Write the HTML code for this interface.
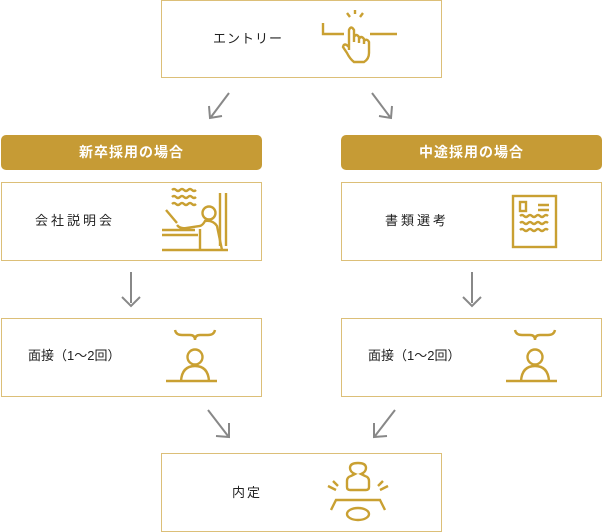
<!DOCTYPE html>
<html><head><meta charset="utf-8"><style>
body{margin:0;width:603px;height:532px;background:#fff;position:relative;overflow:hidden;font-family:"Liberation Sans","Noto Sans CJK JP",sans-serif;}
.box{position:absolute;border:1.5px solid #dcbf78;box-sizing:border-box;background:#fff;}
.t{position:absolute;font-size:13px;color:#222;letter-spacing:1px;white-space:nowrap;}
.h{position:absolute;background:#c69b35;border-radius:5px;color:#fff;font-weight:bold;font-size:14px;text-align:center;line-height:35px;letter-spacing:1px;}
svg{position:absolute;left:0;top:0;}
</style></head><body>
<div class="box" style="left:161px;top:0;width:281px;height:78px"></div>
<div class="h" style="left:1px;top:135px;width:261px;height:35px">新卒採用の場合</div>
<div class="h" style="left:341px;top:135px;width:261px;height:35px">中途採用の場合</div>
<div class="box" style="left:1px;top:182px;width:261px;height:79px"></div>
<div class="box" style="left:341px;top:182px;width:261px;height:79px"></div>
<div class="box" style="left:1px;top:318px;width:261px;height:79px"></div>
<div class="box" style="left:341px;top:318px;width:261px;height:79px"></div>
<div class="box" style="left:161px;top:453px;width:281px;height:79px"></div>
<div class="t" style="left:213px;top:28px">エントリー</div>
<div class="t" style="left:35px;top:210px;letter-spacing:3px">会社説明会</div>
<div class="t" style="left:385px;top:210px;letter-spacing:3px">書類選考</div>
<div class="t" style="left:28px;top:345px;letter-spacing:0">面接（1〜2回）</div>
<div class="t" style="left:368px;top:345px;letter-spacing:0">面接（1〜2回）</div>
<div class="t" style="left:232px;top:482px;letter-spacing:2px">内定</div>
<svg width="603" height="532" fill="none" stroke-linecap="butt">
<g stroke="#888" stroke-width="2">
<path d="M229 93 L211 117 M209 106 L210 118 L222 116"/>
<path d="M372 93 L390 117 M392 106 L391 118 L379 116"/>
<path d="M131 272 V303 M122 297 L131 306 L140 297"/>
<path d="M472 272 V303 M463 297 L472 306 L481 297"/>
<path d="M208 410 L228 436 M229 423 L229 437 L216 436"/>
<path d="M395 410 L375 436 M374 423 L374 437 L387 436"/>
</g>
<g stroke="#c9a032" stroke-width="2.4">
<path d="M323 23 V34 H344 M370 34 H397"/>
<path d="M350 17 L347 13 M355 14 V10 M360 17 L363 13"/>
<path d="M349 50 V30 Q351 25 354 30 V42 M354 37 Q356 33 359 37 V43 M359 39 Q361 35 364 39 V44 M364 41 Q367 38 369 42 V53 Q369 59 364 62 H354 Q350 59 347 53 L343 47 Q344 42 349 47"/>
<path d="M172 190 q2-2 4 0 t4 0 t4 0 t4 0 t4 0 t4 0 M172 197 q2-2 4 0 t4 0 t4 0 t4 0 t4 0 t4 0 M172 204 q2-2 4 0 t4 0 t4 0 t4 0 t4 0 t4 0"/>
<path d="M220 193 V246 M226 193 V246"/>
<circle cx="209" cy="213" r="6.5"/>
<path d="M166 210 L177 223 M177 225 Q180 229 186 228 L200 226 Q203 225 205 221 Q213 220 217 226 L222 250 M200 229 V250 M162 230 H195 M162 235 H198 M162 250 H228"/>
<rect x="513" y="196" width="43" height="51"/>
<rect x="520" y="202" width="6" height="9"/>
<path d="M538 205 H549 M538 210 H549"/>
<path d="M520 216 q2-2 4 0 t4 0 t4 0 t4 0 t4 0 t4 0 t4 0 M520 223 q2-2 4 0 t4 0 t4 0 t4 0 t4 0 t4 0 t4 0 M520 230 q2-2 4 0 t4 0 t4 0 t4 0 t4 0 t4 0 t4 0"/>
<path d="M175 330 Q176 335 182 335 H190 Q195 335 195 340 Q195 335 200 335 H208 Q214 335 215 330"/>
<circle cx="195" cy="357" r="7.5"/>
<path d="M181 381 Q182 366 195 366 Q208 366 209 381 M166 381 H217"/>
<path d="M515 330 Q516 335 522 335 H530 Q535 335 535 340 Q535 335 540 335 H548 Q554 335 555 330"/>
<circle cx="535" cy="357" r="7.5"/>
<path d="M521 381 Q522 366 535 366 Q548 366 549 381 M506 381 H557"/>
<path d="M355 474 Q350 472 350 468 Q350 463 358 463 Q366 463 366 468 Q366 472 361 474 L365 476 Q369 477 369 481 V487 Q369 490 366 490 H350 Q347 490 347 487 V481 Q347 477 351 476 Z"/>
<path d="M328 486 L336 490 M333 481 L338 486 M388 486 L380 490 M383 481 L378 486"/>
<path d="M331 510 L336 500 H380 L385 510"/>
<ellipse cx="358" cy="514" rx="11" ry="6"/>
</g>
</svg>
</body></html>
